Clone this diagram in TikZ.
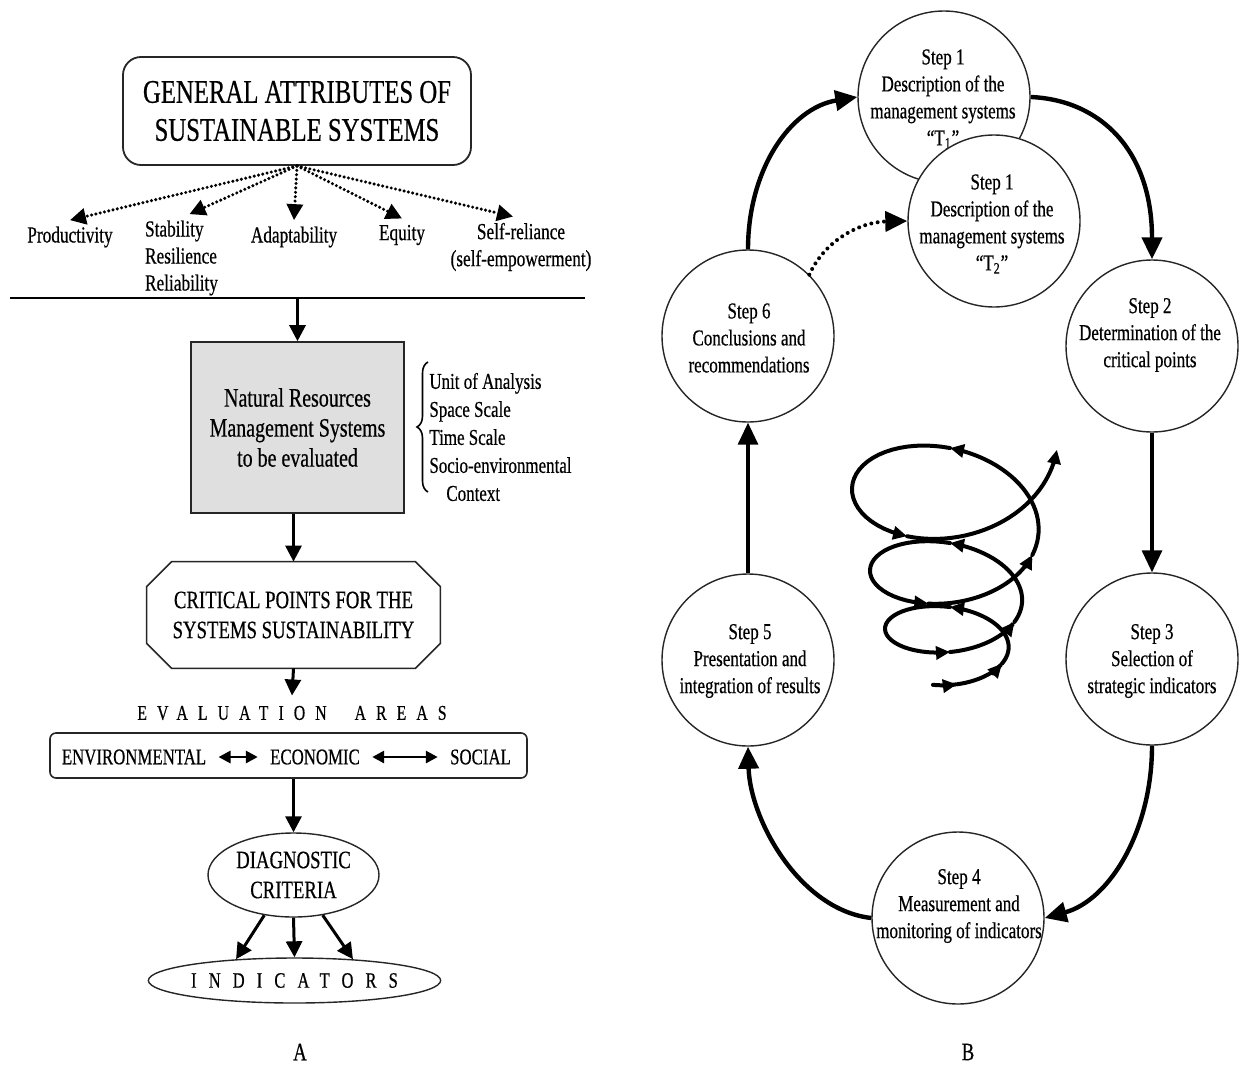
\documentclass[tikz,border=0pt]{standalone}
\usepackage{fontspec}
\setmainfont{Liberation Serif}[FakeStretch=0.75,FakeBold=0.5]
\newfontfamily\spacedA{Liberation Serif}[FakeStretch=0.75,FakeBold=0.5,LetterSpace=48]
\newfontfamily\spacedB{Liberation Serif}[FakeStretch=0.75,FakeBold=0.5,LetterSpace=55]
\usetikzlibrary{arrows.meta,shapes.geometric,decorations.pathreplacing}
\newcommand\fsz[2]{\fontsize{#1}{#2}\selectfont}
\begin{document}
\begin{tikzpicture}[x=0.5pt,y=-0.5pt,
  declare function={sq(\u)=\u/360;
    spx(\u)=950+(55.7+11.25*sq(\u)+1.5*sq(\u)*sq(\u))*sin(\u);
    spy(\u)=656.2-29*sq(\u)-11.75*sq(\u)*sq(\u)+(28.8+4*sq(\u)+3.75*sq(\u)*sq(\u))*cos(\u);},
  titlebox/.style={draw=black!85, line width=0.9pt, rounded corners=9pt, minimum width=174pt, minimum height=54pt, align=center, inner sep=0pt, font=\fsz{16.5}{19}},
  attr/.style={inner xsep=0pt, inner ysep=3pt, font=\fsz{11.5}{13.5}},
  dotarrow/.style={line width=1.7pt, line cap=round, dash pattern=on 0pt off 2.2pt, -{Triangle[length=8pt,width=8pt]}},
  solidarrow/.style={line width=1.5pt, -{Triangle[length=8pt,width=8pt]}},
  dblarrow/.style={line width=1.4pt, {Triangle[length=6pt,width=6pt]}-{Triangle[length=6pt,width=6pt]}},
  graybox/.style={draw=black!85, line width=0.8pt, fill=gray!25, minimum width=106.5pt, minimum height=85.5pt, align=center, font=\fsz{13.3}{15}},
  plainbox/.style={draw=none, minimum width=146.5pt, minimum height=53pt, align=center, inner sep=0pt, font=\fsz{12.5}{15}},
  rowtext/.style={inner xsep=6pt, inner ysep=0pt, font=\fsz{11.2}{13}},
  circ/.style={draw=black!85, line width=0.7pt, circle, minimum size=86pt, inner sep=0pt, fill=white},
  circtext/.style={align=center, inner sep=0pt, font=\fsz{11.35}{13.5}},
  bigarrow/.style={line width=2.2pt, -{Triangle[length=11pt,width=10pt]}},
  spiral/.style={line width=2pt, line cap=round, -{Triangle[length=7pt,width=6.5pt]}}
]
\useasboundingbox (0,0) rectangle (1241,1066);

% ---------------- Panel A ----------------
\node[titlebox] (G) at (297,111) {GENERAL ATTRIBUTES OF\\SUSTAINABLE SYSTEMS};

\node[attr] (P) at (70,237) {Productivity};
\node[attr, align=left] (S) at (181.5,258) {Stability\\Resilience\\Reliability};
\node[attr] (AD) at (294,237) {Adaptability};
\node[attr] (EQ) at (402,235) {Equity};
\node[attr, align=center] (SR) at (521,247) {Self-reliance\\(self-empowerment)};

\draw[dotarrow] (G.south) -- (P.north);
\draw[dotarrow] (G.south) -- ([xshift=4pt]S.north);
\draw[dotarrow] (G.south) -- (AD.north);
\draw[dotarrow] (G.south) -- (EQ.north);
\draw[dotarrow] (G.south) -- ([xshift=-4pt]SR.north);

\coordinate (hl1) at (10,298);
\coordinate (hl2) at (585,298);
\coordinate (hlm) at (297.5,298);
\draw[line width=0.9pt] (hl1) -- (hl2);

\node[graybox] (NR) at (297.5,427.5) {Natural Resources\\Management Systems\\to be evaluated};
\draw[solidarrow] (hlm) -- (NR.north);

\coordinate (br1) at (428,492);
\coordinate (br2) at (428,362);
\draw[line width=0.8pt, decorate, decoration={brace, amplitude=5.5pt}] (br1) -- (br2);
\node[anchor=west, align=left, inner sep=0pt, font=\fsz{11.3}{14}] (BL) at (429,437) {Unit of Analysis\\Space Scale\\Time Scale\\Socio-environmental\\\hspace*{8.5pt}Context};

\node[plainbox] (CP) at (293.5,615) {CRITICAL POINTS FOR THE\\SYSTEMS SUSTAINABILITY};
\draw[draw=black!85, line width=0.8pt]
  ([xshift=12.5pt]CP.north west) -- ([xshift=-12.5pt]CP.north east) -- ([yshift=-12.5pt]CP.north east)
  -- ([yshift=12.5pt]CP.south east) -- ([xshift=-12.5pt]CP.south east) -- ([xshift=12.5pt]CP.south west)
  -- ([yshift=12.5pt]CP.south west) -- ([yshift=-12.5pt]CP.north west) -- cycle;
\draw[solidarrow] (NR.south -| CP.north) -- (CP.north);

\node[inner sep=0pt, font=\spacedA\fsz{10.5}{12}] (EA) at (292,713) {EVALUATION\hspace{14pt}AREAS};
\draw[solidarrow] (CP.south) -- ([yshift=5pt]EA.north);

\node[draw=black!85, line width=0.8pt, rounded corners=3pt, minimum width=238.5pt, minimum height=22.5pt] (EB) at (288.5,755.5) {};
\node[rowtext] (ENV) at (134,757) {ENVIRONMENTAL};
\node[rowtext] (ECO) at (315,757) {ECONOMIC};
\node[rowtext] (SOC) at (480.5,757) {SOCIAL};
\draw[dblarrow] (ENV.east) -- (ECO.west);
\draw[dblarrow] (ECO.east) -- (SOC.west);

\node[draw=black!85, line width=0.7pt, ellipse, minimum width=85.5pt, minimum height=42pt, inner sep=0pt, align=center, font=\fsz{12.5}{15}] (DC) at (293.5,875) {DIAGNOSTIC\\CRITERIA};
\draw[solidarrow] (EB.south -| DC.north) -- (DC.north);

\node[draw=black!85, line width=0.7pt, ellipse, minimum width=143.5pt, minimum height=22.5pt, inner sep=0pt, font=\spacedB\fsz{11}{13}] (IND) at (294.5,980.5) {INDICATORS};
\draw[solidarrow] (DC.-126) -- (IND.160);
\draw[solidarrow] (DC.south) -- (IND.north);
\draw[solidarrow] (DC.-54) -- (IND.20);

\node[font=\fsz{12.5}{14}] (LA) at (300,1052) {A};

% ---------------- Panel B ----------------
\node[circ] (S1a) at (944,97) {};
\node[circtext] (T1a) at (943,99) {Step 1\\Description of the\\management systems\\“T\textsubscript{1}”};
\node[circ] (S1b) at (994,221) {};
\node[circtext] (T1b) at (992,224) {Step 1\\Description of the\\management systems\\“T\textsubscript{2}”};
\node[circ] (S2) at (1152,346) {};
\node[circtext] (T2) at (1150,335) {Step 2\\Determination of the\\critical points};
\node[circ] (S3) at (1152,659) {};
\node[circtext] (T3) at (1152,661) {Step 3\\Selection of\\strategic indicators};
\node[circ] (S4) at (958,918) {};
\node[circtext] (T4) at (959,906) {Step 4\\Measurement and\\monitoring of indicators};
\node[circ] (S5) at (748,660) {};
\node[circtext] (T5) at (750,661) {Step 5\\Presentation and\\integration of results};
\node[circ] (S6) at (748,336) {};
\node[circtext] (T6) at (749,338) {Step 6\\Conclusions and\\recommendations};

\draw[bigarrow] (S6.north) .. controls (748,170) and (790,108) .. (S1a.west);
\draw[bigarrow] (S1a.east) .. controls (1100,100) and (1152,150) .. (S2.north);
\draw[bigarrow, line width=1.6pt] (S2.south) -- (S3.north);
\draw[bigarrow] (S3.south) .. controls (1152,830) and (1110,900) .. (S4.east);
\draw[bigarrow] (S4.west) .. controls (800,910) and (750,820) .. (S5.south);
\draw[bigarrow, line width=1.6pt] (S5.north) -- (S6.south);
\draw[line width=2pt, line cap=round, dash pattern=on 0pt off 3.2pt, -{Triangle[length=11pt,width=10pt]}]
  (S6.45) .. controls (825,240) and (860,222) .. (S1b.west);

% spiral
\foreach \a/\b in {-18/7, 7/64, 64/180, 180/360, 360/425, 425/540, 540/705, 705/790, 790/900, 900/1055, 1055/1163}
  \draw[spiral] plot[domain=\a:\b, samples=30, variable=\q] ({spx(\q)},{spy(\q)});

\node[font=\fsz{12.5}{14}] (LB) at (968,1052) {B};
\end{tikzpicture}
\end{document}
